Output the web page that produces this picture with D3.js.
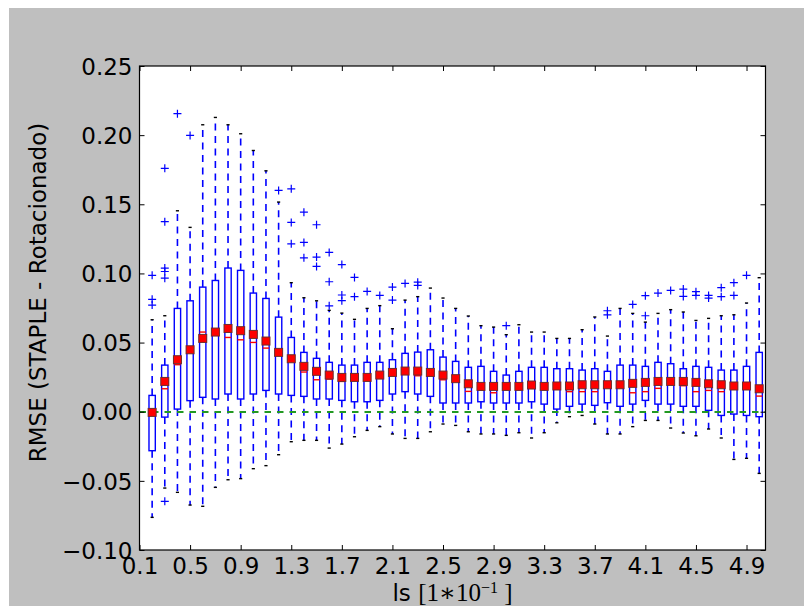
<!DOCTYPE html>
<html><head><meta charset="utf-8">
<script src="https://cdn.jsdelivr.net/npm/d3@7"></script>
<style>body{margin:0;background:#fff}</style>
</head><body><svg id="c" width="804" height="606"></svg>
<script>
// ---- data ----
const categories = ["0.1","0.2","0.3","0.4","0.5","0.6","0.7","0.8","0.9","1.0","1.1","1.2","1.3","1.4","1.5","1.6","1.7","1.8","1.9","2.0","2.1","2.2","2.3","2.4","2.5","2.6","2.7","2.8","2.9","3.0","3.1","3.2","3.3","3.4","3.5","3.6","3.7","3.8","3.9","4.0","4.1","4.2","4.3","4.4","4.5","4.6","4.7","4.8","4.9"];
const boxPositions = [1,2,3,4,5,6,7,8,9,10,11,12,13,14,15,16,17,18,19,20,21,22,23,24,25,26,27,28,29,30,31,32,33,34,35,36,37,38,39,40,41,42,43,44,45,46,47,48,49];
const whiskerLow = [-0.0764,-0.0552,-0.0583,-0.0675,-0.0684,-0.0547,-0.0492,-0.0484,-0.0412,-0.0390,-0.0311,-0.0217,-0.0207,-0.0207,-0.0263,-0.0234,-0.0181,-0.0135,-0.0108,-0.0161,-0.0193,-0.0193,-0.0145,-0.0089,-0.0099,-0.0145,-0.0161,-0.0161,-0.0171,-0.0152,-0.0190,-0.0152,-0.0080,-0.0036,-0.0027,-0.0089,-0.0161,-0.0161,-0.0108,-0.0063,-0.0063,-0.0118,-0.0154,-0.0174,-0.0125,-0.0190,-0.0345,-0.0337,-0.0446];
const q1 = [-0.0282,-0.0039,0.0019,0.0080,0.0104,0.0092,0.0128,0.0092,0.0128,0.0154,0.0128,0.0118,0.0111,0.0092,0.0092,0.0082,0.0072,0.0072,0.0082,0.0128,0.0145,0.0128,0.0111,0.0063,0.0063,0.0063,0.0072,0.0063,0.0063,0.0063,0.0072,0.0055,0.0019,0.0039,0.0055,0.0046,0.0065,0.0039,0.0055,0.0082,0.0055,0.0055,0.0039,0.0039,0.0010,-0.0027,-0.0017,-0.0027,-0.0036];
const medians = [-0.0005,0.0166,0.0340,0.0445,0.0576,0.0580,0.0537,0.0520,0.0501,0.0460,0.0425,0.0380,0.0287,0.0231,0.0236,0.0219,0.0245,0.0245,0.0260,0.0280,0.0285,0.0260,0.0280,0.0231,0.0228,0.0147,0.0157,0.0137,0.0180,0.0180,0.0190,0.0180,0.0183,0.0145,0.0145,0.0145,0.0192,0.0192,0.0137,0.0145,0.0169,0.0205,0.0188,0.0145,0.0154,0.0145,0.0180,0.0180,0.0113];
const q3 = [0.0118,0.0337,0.0747,0.0802,0.0901,0.0949,0.1039,0.1022,0.0858,0.0819,0.0684,0.0537,0.0429,0.0386,0.0357,0.0337,0.0337,0.0357,0.0357,0.0376,0.0422,0.0431,0.0448,0.0395,0.0364,0.0321,0.0328,0.0292,0.0265,0.0292,0.0321,0.0321,0.0311,0.0311,0.0301,0.0311,0.0292,0.0337,0.0337,0.0328,0.0357,0.0347,0.0311,0.0328,0.0321,0.0301,0.0301,0.0328,0.0429];
const whiskerHigh = [0.0665,0.0694,0.1453,0.1333,0.2075,0.2128,0.2075,0.2010,0.1889,0.1742,0.1516,0.0933,0.0824,0.0802,0.0733,0.0713,0.0668,0.0747,0.0767,0.0600,0.0807,0.0832,0.0894,0.0822,0.0747,0.0692,0.0622,0.0612,0.0557,0.0629,0.0576,0.0576,0.0530,0.0530,0.0593,0.0685,0.0547,0.0747,0.0711,0.0648,0.0711,0.0738,0.0721,0.0660,0.0675,0.0694,0.0701,0.0786,0.0969];
const means = [-0.0005,0.0219,0.0376,0.0448,0.0530,0.0576,0.0602,0.0586,0.0559,0.0511,0.0429,0.0383,0.0328,0.0292,0.0265,0.0248,0.0248,0.0248,0.0265,0.0284,0.0294,0.0294,0.0284,0.0265,0.0239,0.0202,0.0183,0.0183,0.0183,0.0183,0.0193,0.0183,0.0186,0.0186,0.0195,0.0195,0.0195,0.0195,0.0205,0.0212,0.0219,0.0219,0.0219,0.0212,0.0202,0.0195,0.0186,0.0186,0.0166];
const outliers = [
  [0.0986,0.0813,0.0771],
  [0.1760,0.1374,0.1039,0.1014,0.0966,-0.0648],
  [0.2155],
  [0.1998],
  [],[],[],[],[],[],
  [0.1600],
  [0.1612,0.1369,0.1214],
  [0.1443,0.1224,0.1113],
  [0.1352,0.1118,0.1051],
  [0.1152,0.0940,0.0766],
  [0.1064,0.0844,0.0803],
  [0.0971,0.0832],
  [0.0870],
  [0.0841],
  [0.0901,0.0807],
  [0.0928],
  [0.0937,0.0913],
  [],[],[],[],[],[],
  [0.0622],
  [],[],[],[],[],[],[],
  [0.0730,0.0701],
  [],
  [0.0776],
  [0.0839,0.0694],
  [0.0858],
  [0.0877],
  [0.0887,0.0834],
  [0.0868,0.0841],
  [0.0841,0.0822],
  [0.0897,0.0832],
  [0.0933,0.0841],
  [0.0986],
  []
];
const xTickPositions = [0,4,8,12,16,20,24,28,32,36,40,44,48];
const xTickLabels = ["0.1","0.5","0.9","1.3","1.7","2.1","2.5","2.9","3.3","3.7","4.1","4.5","4.9"];
const yTicks = [-0.10,-0.05,0.00,0.05,0.10,0.15,0.20,0.25];
const referenceLine = 0.0;

// ---- drawing ----
const svg = d3.select("#c");
svg.append("rect").attr("x",9).attr("y",8).attr("width",795).attr("height",598).attr("fill","#bfbfbf");
const L = 139.5, R = 765.5, T = 66, B = 550;
svg.append("rect").attr("x",L).attr("y",T).attr("width",R-L).attr("height",B-T).attr("fill","#fff");

const x = d3.scaleLinear().domain([0,49.5]).range([L,R]);
const y = d3.scaleLinear().domain([-0.10,0.25]).range([B,T]);

const font = "'DejaVu Sans', sans-serif";
const fmtY = d => (d < -1e-9 ? "\u2212" : "") + Math.abs(d).toFixed(2);

const g = svg.append("g");
const gRef = svg.append("g");
const gMean = svg.append("g");

// reference line (drawn over boxes, under means)
const yRef = Math.round(y(referenceLine));
gRef.append("line").attr("x1",L).attr("x2",R).attr("y1",yRef).attr("y2",yRef)
  .attr("stroke","#229922").attr("stroke-width",2).attr("stroke-dasharray","6.5,6");

const bw = 0.25, cw = 0.125;
boxPositions.forEach((p,i) => {
  const cx = x(p);
  // whiskers
  g.append("line").attr("x1",cx).attr("x2",cx).attr("y1",y(q3[i])).attr("y2",y(whiskerHigh[i]))
    .attr("stroke","#0000ff").attr("stroke-width",1.6).attr("stroke-dasharray","7,5.5");
  g.append("line").attr("x1",cx).attr("x2",cx).attr("y1",y(q1[i])).attr("y2",y(whiskerLow[i]))
    .attr("stroke","#0000ff").attr("stroke-width",1.6).attr("stroke-dasharray","7,5.5");
  // box
  g.append("rect").attr("x",x(p-bw)).attr("width",x(p+bw)-x(p-bw))
    .attr("y",y(q3[i])).attr("height",y(q1[i])-y(q3[i]))
    .attr("fill","none").attr("stroke","#0000ff").attr("stroke-width",1.4);
  // caps
  [whiskerHigh[i], whiskerLow[i]].forEach(v => {
    g.append("line").attr("x1",x(p-cw)).attr("x2",x(p+cw)).attr("y1",y(v)).attr("y2",y(v))
      .attr("stroke","#000").attr("stroke-width",1.4);
  });
  // median
  g.append("line").attr("x1",x(p-bw)).attr("x2",x(p+bw)).attr("y1",y(medians[i])).attr("y2",y(medians[i]))
    .attr("stroke","#ff0000").attr("stroke-width",1.4);
  // fliers
  outliers[i].forEach(v => {
    const yy = y(v), s = 4;
    g.append("path").attr("d",`M${cx-s},${yy}H${cx+s}M${cx},${yy-s}V${yy+s}`)
      .attr("stroke","#0000ff").attr("stroke-width",1.2);
  });
  // mean
  gMean.append("rect").attr("x",cx-4).attr("y",y(means[i])-4).attr("width",8).attr("height",8)
    .attr("fill","#ff0000").attr("stroke","#6e2b2b").attr("stroke-width",1);
});

// axes
const ax = svg.append("g").attr("transform",`translate(0,${B})`)
  .call(d3.axisBottom(x).tickValues(xTickPositions).tickFormat((d,i)=>xTickLabels[i]).tickSizeInner(-5).tickSizeOuter(0));
const axT = svg.append("g").attr("transform",`translate(0,${T})`)
  .call(d3.axisTop(x).tickValues(xTickPositions).tickFormat("").tickSizeInner(-5).tickSizeOuter(0));
const ay = svg.append("g").attr("transform",`translate(${L},0)`)
  .call(d3.axisLeft(y).tickValues(yTicks).tickFormat(fmtY).tickSizeInner(-5).tickSizeOuter(0));
const ayR = svg.append("g").attr("transform",`translate(${R},0)`)
  .call(d3.axisRight(y).tickValues(yTicks).tickFormat("").tickSizeInner(-5).tickSizeOuter(0));
[ax,axT,ay,ayR].forEach(a => { a.select(".domain").remove(); a.selectAll("line").attr("stroke","#000"); });
ax.selectAll("text").attr("y",24).attr("dy",0).attr("font-size",23).attr("font-family",font).attr("fill","#000");
ay.selectAll("text").attr("x",-7).attr("dy","0.36em").attr("font-size",23).attr("font-family",font).attr("fill","#000");

// frame
svg.append("rect").attr("x",L).attr("y",T).attr("width",R-L).attr("height",B-T)
  .attr("fill","none").attr("stroke","#000").attr("stroke-width",1.2);

// axis labels
svg.append("text").attr("transform","translate(46,292.5) rotate(-90)").attr("text-anchor","middle")
  .attr("font-family",font).attr("font-size",23).attr("fill","#000").text("RMSE (STAPLE - Rotacionado)");

const xl = svg.append("text").attr("x",452.5).attr("y",601).attr("text-anchor","middle")
  .attr("font-family",font).attr("font-size",23).attr("fill","#000");
xl.append("tspan").text("ls ");
const serif = "'Liberation Serif','DejaVu Serif',serif";
xl.append("tspan").attr("font-family",serif).attr("font-size",25).text("[1\u221710");
xl.append("tspan").attr("font-family",serif).attr("font-size",16).attr("dy",-8).text("\u22121");
xl.append("tspan").attr("font-family",serif).attr("font-size",25).attr("dy",8).text(" ]");
</script></body></html>
